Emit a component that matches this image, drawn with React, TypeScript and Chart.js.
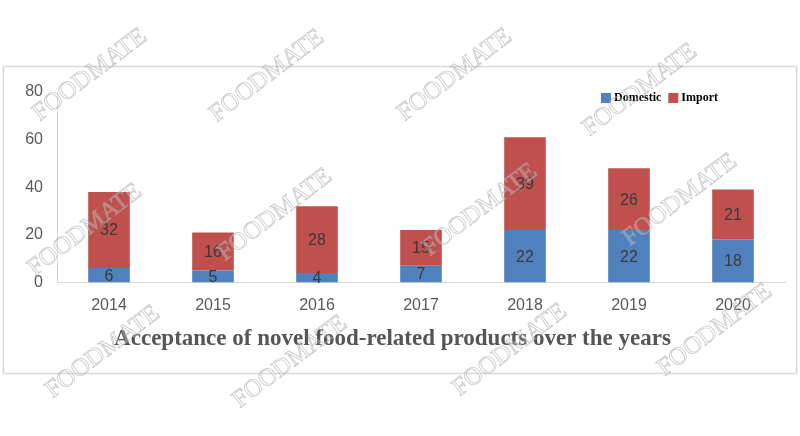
import React, { useEffect, useRef } from "react";
import { Chart, registerables } from "chart.js";

Chart.register(...registerables);

const years = ["2014", "2015", "2016", "2017", "2018", "2019", "2020"];
const domestic = [6, 5, 4, 7, 22, 22, 18];
const imports = [32, 16, 28, 15, 39, 26, 21];
const yTicks = [0, 20, 40, 60, 80];
const titleText = "Acceptance of novel food-related products over the years";
const watermark = "FOODMATE";
const watermarkSpots: [number, number][] = [
  [90, 75], [267, 76], [455, 75], [640, 90],
  [85, 230], [275, 215], [480, 210], [680, 200],
  [103, 352], [290, 362], [510, 350], [715, 330],
];

const BLUE = "#4F81BD";
const RED = "#C0504D";

const framePlugin = {
  id: "frame",
  beforeDraw(chart: any) {
    const ctx = chart.ctx;
    ctx.save();
    ctx.fillStyle = "#ffffff";
    ctx.fillRect(0, 0, chart.width, chart.height);
    ctx.strokeStyle = "#d9d9d9";
    ctx.lineWidth = 1.5;
    ctx.strokeRect(3.5, 66.5, 793, 307);
    ctx.restore();
  },
};

const labelPlugin = {
  id: "barLabels",
  afterDatasetsDraw(chart: any) {
    const ctx = chart.ctx;
    ctx.save();
    ctx.fillStyle = "#3a3a3a";
    ctx.font = "16px 'Liberation Sans', sans-serif";
    ctx.textAlign = "center";
    ctx.textBaseline = "middle";
    chart.data.datasets.forEach((ds: any, i: number) => {
      const meta = chart.getDatasetMeta(i);
      meta.data.forEach((bar: any, j: number) => {
        const mid = (bar.y + bar.base) / 2;
        ctx.fillText(String(ds.data[j]), bar.x, mid + 1);
      });
    });
    ctx.restore();
  },
};

const legendPlugin = {
  id: "customLegend",
  afterDraw(chart: any) {
    const ctx = chart.ctx;
    ctx.save();
    ctx.font = "bold 12px 'Liberation Serif', serif";
    ctx.textBaseline = "middle";
    let x = 601;
    const y = 98;
    chart.data.datasets.forEach((ds: any) => {
      ctx.fillStyle = ds.backgroundColor;
      ctx.fillRect(x, y - 5, 10, 10);
      ctx.fillStyle = "#000000";
      ctx.fillText(ds.label, x + 13, y);
      x += 13 + ctx.measureText(ds.label).width + 7;
    });
    ctx.restore();
  },
};

const watermarkPlugin = {
  id: "watermark",
  afterDraw(chart: any) {
    const ctx = chart.ctx;
    ctx.save();
    ctx.font = "25px 'Liberation Serif', serif";
    ctx.textAlign = "center";
    ctx.textBaseline = "middle";
    ctx.strokeStyle = "rgba(165,165,165,0.6)";
    ctx.fillStyle = "rgba(255,255,255,0.25)";
    ctx.lineWidth = 0.8;
    watermarkSpots.forEach(([wx, wy]) => {
      ctx.save();
      ctx.translate(wx, wy);
      ctx.rotate(-0.65);
      ctx.fillText(watermark, 0, 0);
      ctx.strokeText(watermark, 0, 0);
      ctx.restore();
    });
    ctx.restore();
  },
};

export default function App() {
  const ref = useRef<HTMLCanvasElement | null>(null);
  useEffect(() => {
    document.body.style.margin = "0";
    if (!ref.current) return;
    const chart = new Chart(ref.current, {
      type: "bar",
      data: {
        labels: years,
        datasets: [
          { label: "Domestic", data: domestic, backgroundColor: BLUE, barPercentage: 0.8, categoryPercentage: 0.5 },
          { label: "Import", data: imports, backgroundColor: RED, barPercentage: 0.8, categoryPercentage: 0.5 },
        ],
      },
      options: {
        responsive: false,
        animation: false,
        layout: { padding: { left: 0, right: 15, top: 92, bottom: 77 } },
        plugins: {
          legend: { display: false },
          tooltip: { enabled: false },
          title: {
            display: true,
            position: "bottom",
            text: titleText,
            color: "#555555",
            font: { family: "'Liberation Serif', serif", size: 23, weight: "bold" },
            padding: { top: 13, bottom: 6 },
          },
        },
        scales: {
          x: {
            stacked: true,
            grid: { display: false, drawTicks: false },
            border: { display: true, color: "#d9d9d9", width: 1 },
            ticks: { color: "#595959", font: { family: "'Liberation Sans', sans-serif", size: 16 }, padding: 14 },
            afterFit(scale: any) { scale.height = 30; },
          },
          y: {
            stacked: true,
            min: 0,
            max: 80,
            afterBuildTicks(scale: any) { scale.ticks = yTicks.map((v) => ({ value: v })); },
            grid: { display: false, drawTicks: false },
            border: { display: true, color: "#d9d9d9", width: 1 },
            ticks: { color: "#595959", font: { family: "'Liberation Sans', sans-serif", size: 16 }, padding: 14 },
            afterFit(scale: any) { scale.width = 57; },
          },
        },
      },
      plugins: [framePlugin, labelPlugin, legendPlugin, watermarkPlugin],
    });
    return () => chart.destroy();
  }, []);
  return (
    <div style={{ width: 800, height: 436 }}>
      <canvas ref={ref} width={800} height={436} style={{ display: "block" }} />
    </div>
  );
}
